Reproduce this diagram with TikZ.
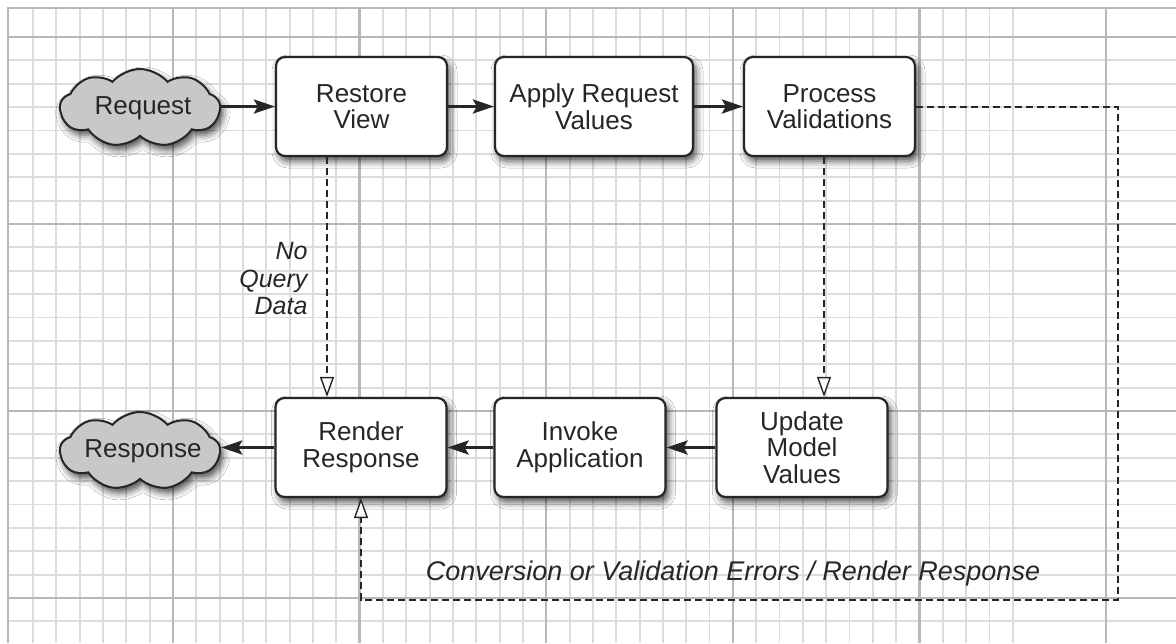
\documentclass[tikz,border=0pt]{standalone}
\usepackage{fontspec}
\setmainfont{Liberation Sans}
\usetikzlibrary{arrows.meta,shapes.symbols,shadows.blur}
\definecolor{gridfine}{HTML}{DCDCDC}
\definecolor{gridthick}{HTML}{B8B8B8}
\definecolor{ink}{HTML}{262626}
\definecolor{cloudfill}{HTML}{C8C8C8}
\tikzset{
  phase/.style={draw=ink, line width=2.2pt, fill=white, rounded corners=9pt,
    minimum width=171pt, minimum height=99pt, inner sep=0pt, align=center,
    text=ink, font=\fontsize{26}{26.5}\selectfont,
    blur shadow={shadow xshift=3pt, shadow yshift=-5pt, shadow blur radius=7pt, shadow opacity=70}},
  cloudnode/.style={shape=cloud, cloud puffs=9, cloud puff arc=100, aspect=2.1,
    draw=ink, line width=2pt, fill=cloudfill, minimum width=160pt, minimum height=78pt,
    inner sep=0pt, text=ink, font=\fontsize{26}{26.5}\selectfont,
    blur shadow={shadow xshift=3pt, shadow yshift=-5pt, shadow blur radius=7pt, shadow opacity=70}},
  flow/.style={draw=ink, line width=3pt, -{Stealth[length=21pt,width=14pt,inset=4pt]}},
  skip/.style={draw=ink, line width=2pt, dash pattern=on 7pt off 4pt,
    -{Triangle[length=20pt,width=14pt,fill=white,line width=1.4pt]}},
  lbl/.style={text=ink, font=\fontsize{25}{27.5}\selectfont\itshape},
  finegrid/.style={draw=gridfine, line width=1.8pt},
  thickgrid/.style={draw=gridthick, line width=2.4pt}
}
\begin{document}
\begin{tikzpicture}[x=1pt,y=-1pt]
\useasboundingbox (0,0) rectangle (1176,643);
\fill[white] (0,0) rectangle (1176,643);
% grid
\foreach \i in {1,...,43} {
  \pgfmathsetmacro\xx{173+23.33*(\i-7)}
  \draw[finegrid] (\xx,7) -- (\xx,643);
}
\foreach \j in {0,...,26} {
  \pgfmathsetmacro\yy{37+23.375*\j}
  \draw[finegrid] (7,\yy) -- (1176,\yy);
}
\foreach \xx in {173,359.6,546.2,732.8,919.4,1106} {
  \draw[thickgrid] (\xx,7) -- (\xx,643);
}
\foreach \yy in {37,224,411,598} {
  \draw[thickgrid] (7,\yy) -- (1176,\yy);
}
\draw[thickgrid] (8,7) -- (8,643);
\draw[thickgrid] (7,8) -- (1176,8);

% nodes
\node[cloudnode] (req) at (140,108) {\makebox[0pt]{\hspace*{6pt}Request}};
\node[phase] (rv) at (361.5,106.5) {Restore\\View};
\node[phase, minimum width=198pt] (arv) at (594,106.5) {Apply Request\\Values};
\node[phase] (pv) at (829.5,106.5) {Process\\Validations};
\node[phase] (rr) at (361,447.5) {Render\\Response};
\node[phase] (ia) at (580,447.5) {Invoke\\Application};
\node[phase] (umv) at (802,447.5) {Update\\Model\\Values};
\node[cloudnode] (resp) at (140,451) {\makebox[0pt]{\hspace*{6pt}Response}};

\coordinate (c1) at (327,0);
\coordinate (c2) at (824,0);
\coordinate (cr) at (1118,600);

% connectors
\draw[flow] (req.east |- rv.west) -- (rv.west);
\draw[flow] (rv) -- (arv);
\draw[flow] (arv) -- (pv);
\draw[flow] (umv) -- (ia);
\draw[flow] (ia) -- (rr);
\draw[flow] (rr.west) -- (rr.west -| resp.east);
\draw[skip] (rv.south -| c1) -- (rr.north -| c1);
\draw[skip] (pv.south -| c2) -- (umv.north -| c2);
\draw[skip] (pv.east) -| (cr) -| (rr.south);

% labels
\node[lbl, anchor=east, align=right] (nqd) at (311,279) {No\\Query\\Data};
\node[lbl, font=\fontsize{27}{28}\selectfont\itshape] (cve) at (733,574) {Conversion or Validation Errors / Render Response};
\end{tikzpicture}
\end{document}
